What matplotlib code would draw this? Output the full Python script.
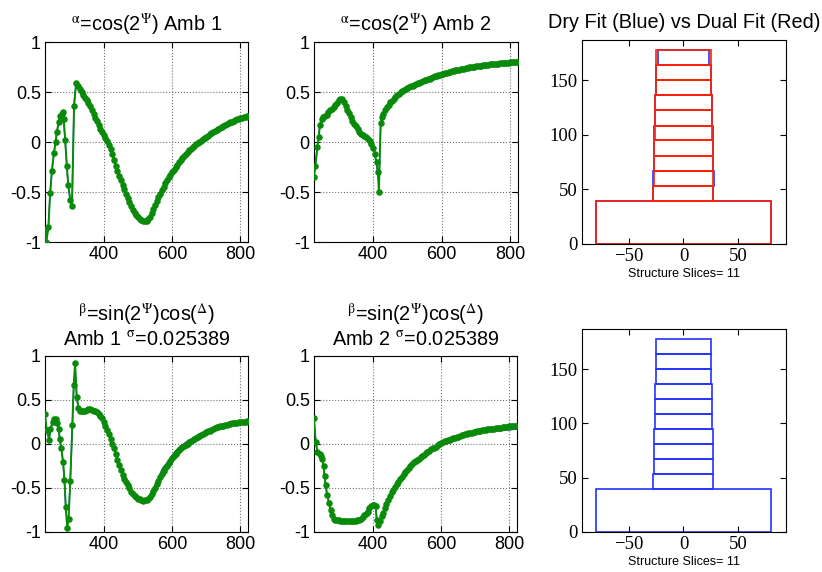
import matplotlib
matplotlib.use("Agg")
import matplotlib.pyplot as plt
from matplotlib.patches import Rectangle

plt.rcParams['mathtext.fontset'] = 'stix'

# ---------------------------------------------------------
# Amb 1, alpha: pomiar (zielony) i dopasowanie (niebieski)
# ---------------------------------------------------------
wl_a1 = [228, 232, 238, 243, 248, 254, 259, 263, 268, 273, 277, 280, 283, 287,
         292, 296, 302, 307, 313, 319, 325] + list(range(330, 825, 5))
meas_a1 = [-0.88, -1.0, -0.85, -0.51, -0.29, -0.11, 0.0, 0.10, 0.20, 0.26, 0.28, 0.30, 0.23, 0.02,
           -0.24, -0.43, -0.58, -0.64, 0.36, 0.59, 0.56,
           0.53, 0.50, 0.47, 0.445, 0.42, 0.39, 0.36, 0.32, 0.28, 0.245,
           0.21, 0.17, 0.13, 0.10, 0.07, 0.04, 0.01, -0.03, -0.07, -0.12,
           -0.18, -0.235, -0.29, -0.335, -0.38, -0.425, -0.47, -0.515, -0.56, -0.60,
           -0.64, -0.68, -0.71, -0.73, -0.75, -0.77, -0.78, -0.79, -0.79, -0.785,
           -0.77, -0.745, -0.71, -0.67, -0.63, -0.59, -0.55, -0.515, -0.48, -0.445,
           -0.41, -0.38, -0.35, -0.325, -0.30, -0.275, -0.25, -0.225, -0.20, -0.18,
           -0.16, -0.14, -0.12, -0.10, -0.08, -0.065, -0.05, -0.035, -0.02, -0.01,
           0.0, 0.015, 0.03, 0.04, 0.05, 0.065, 0.08, 0.09, 0.10, 0.11,
           0.12, 0.13, 0.14, 0.15, 0.16, 0.17, 0.18, 0.19, 0.20, 0.205,
           0.21, 0.22, 0.23, 0.235, 0.24, 0.245, 0.25, 0.255, 0.26]
fit_wl_a1 = [228, 232, 238, 243, 248, 254, 259, 263, 268, 273, 277, 280, 283, 287,
             292, 296, 302, 307, 313, 319, 325, 330, 340, 350, 360, 370, 380, 390,
             400, 410, 420, 430, 440, 450, 460, 470, 480, 490, 500, 510, 520, 530,
             540, 550, 560, 570, 580, 590, 600, 610, 620, 630, 640, 650, 660, 670,
             680, 690, 700, 710, 720, 730, 740, 750, 760, 770, 780, 790, 800, 810, 820]
fit_a1 = [-0.86, -0.97, -0.83, -0.52, -0.30, -0.12, 0.01, 0.11, 0.21, 0.27, 0.29, 0.28, 0.20, 0.00,
          -0.25, -0.44, -0.59, -0.63, 0.38, 0.59, 0.56, 0.53, 0.47, 0.42, 0.36, 0.28, 0.21, 0.13,
          0.07, 0.01, -0.07, -0.18, -0.29, -0.38, -0.47, -0.56, -0.64, -0.71, -0.76, -0.79, -0.79, -0.77,
          -0.71, -0.63, -0.55, -0.47, -0.40, -0.34, -0.29, -0.24, -0.19, -0.15, -0.11, -0.08, -0.05, -0.02,
          0.0, 0.03, 0.05, 0.08, 0.10, 0.12, 0.14, 0.16, 0.18, 0.20, 0.21, 0.23, 0.24, 0.25, 0.26]

# Amb 2, alpha
wl_a2 = ([228, 232, 238, 242, 245] + list(range(250, 405, 5))
         + [405, 410, 414, 417, 422, 426] + list(range(430, 825, 5)))
meas_a2 = [-0.35, -0.24, -0.05, 0.05, 0.17,
           0.23, 0.25, 0.26, 0.275, 0.30, 0.32, 0.335, 0.35, 0.37, 0.395,
           0.42, 0.43, 0.43, 0.40, 0.36, 0.325, 0.29, 0.25, 0.21, 0.185,
           0.16, 0.13, 0.10, 0.085, 0.07, 0.06, 0.05, 0.03, 0.01, -0.02,
           -0.06,
           -0.12, -0.20, -0.30, -0.50, 0.19, 0.25,
           0.28, 0.32, 0.35, 0.375, 0.40, 0.415, 0.43, 0.45, 0.47, 0.485,
           0.50, 0.51, 0.52, 0.53, 0.54, 0.55, 0.56, 0.565, 0.57, 0.58,
           0.59, 0.595, 0.60, 0.61, 0.62, 0.625, 0.63, 0.635, 0.64, 0.65,
           0.66, 0.665, 0.67, 0.675, 0.68, 0.685, 0.69, 0.695, 0.70, 0.705,
           0.71, 0.715, 0.72, 0.72, 0.725, 0.73, 0.73, 0.735, 0.74, 0.745,
           0.75, 0.75, 0.755, 0.755, 0.76, 0.76, 0.765, 0.765, 0.77, 0.77,
           0.775, 0.775, 0.78, 0.78, 0.78, 0.78, 0.785, 0.785, 0.79, 0.79,
           0.79, 0.79, 0.795, 0.795, 0.80, 0.80, 0.80, 0.80, 0.80]
fit_wl_a2 = [228, 232, 238, 242, 245, 249, 254, 260, 266, 272, 278, 284, 290, 296, 302, 308, 314, 320,
             330, 340, 350, 360, 370, 380, 390, 400, 405, 410, 414, 417, 422, 430, 440, 450, 460, 470,
             480, 490, 500, 510, 520, 530, 540, 550, 560, 570, 580, 590, 600, 610, 620, 630, 640, 650,
             660, 670, 680, 690, 700, 710, 720, 730, 740, 750, 760, 770, 780, 790, 800, 810, 820]
fit_a2 = [-0.33, -0.22, -0.04, 0.06, 0.16, 0.21, 0.24, 0.26, 0.28, 0.31, 0.33, 0.35, 0.37, 0.40, 0.43, 0.43, 0.40, 0.36,
          0.29, 0.21, 0.16, 0.10, 0.07, 0.05, 0.01, -0.06, -0.13, -0.22, -0.33, -0.42, 0.15, 0.27, 0.35, 0.40, 0.43, 0.47,
          0.50, 0.52, 0.54, 0.56, 0.57, 0.59, 0.60, 0.62, 0.63, 0.64, 0.66, 0.67, 0.68, 0.69, 0.70, 0.71, 0.72, 0.72,
          0.73, 0.74, 0.75, 0.75, 0.76, 0.76, 0.77, 0.77, 0.78, 0.78, 0.78, 0.79, 0.79, 0.79, 0.80, 0.80, 0.80]

# Amb 1, beta
wl_b1 = [228, 233, 240, 244, 250, 255, 260, 263, 268, 271, 276, 281, 285, 289, 293, 297,
         302, 308, 312, 316, 321, 326] + list(range(330, 825, 5))
meas_b1 = [0.34, 0.16, 0.05, 0.17, 0.25, 0.28, 0.28, 0.24, 0.17, 0.06, -0.05, -0.20, -0.41, -0.72, -0.96, -0.85,
           -0.42, 0.22, 0.67, 0.92, 0.53, 0.41,
           0.38, 0.375, 0.37, 0.38, 0.39, 0.395, 0.40, 0.39, 0.38, 0.37,
           0.36, 0.34, 0.32, 0.29, 0.25, 0.205, 0.16, 0.11, 0.06, 0.005,
           -0.05, -0.115, -0.18, -0.24, -0.30, -0.35, -0.40, -0.435, -0.47, -0.505,
           -0.54, -0.565, -0.59, -0.605, -0.62, -0.63, -0.64, -0.645, -0.64, -0.635,
           -0.62, -0.60, -0.57, -0.535, -0.50, -0.46, -0.42, -0.38, -0.34, -0.305,
           -0.27, -0.245, -0.22, -0.19, -0.16, -0.135, -0.11, -0.09, -0.07, -0.05,
           -0.03, -0.02, -0.01, 0.005, 0.02, 0.03, 0.04, 0.055, 0.07, 0.08,
           0.09, 0.10, 0.11, 0.125, 0.14, 0.145, 0.15, 0.16, 0.17, 0.18,
           0.19, 0.195, 0.20, 0.205, 0.21, 0.215, 0.22, 0.225, 0.23, 0.235,
           0.24, 0.24, 0.24, 0.245, 0.25, 0.25, 0.25, 0.255, 0.26]
fit_wl_b1 = [228, 233, 240, 244, 250, 255, 260, 263, 268, 271, 276, 281, 285, 289, 293, 297, 302, 308,
             312, 316, 321, 326, 330, 340, 350, 360, 370, 380, 390, 400, 410, 420, 430, 440, 450, 460,
             470, 480, 490, 500, 510, 520, 530, 540, 550, 560, 570, 580, 590, 600, 610, 620, 630, 640,
             650, 660, 670, 680, 690, 700, 710, 720, 730, 740, 750, 760, 770, 780, 790, 800, 810, 820]
fit_b1 = [0.32, 0.15, 0.07, 0.16, 0.24, 0.27, 0.27, 0.23, 0.15, 0.04, -0.07, -0.22, -0.44, -0.75, -0.90, -0.82, -0.40, 0.20,
          0.64, 0.88, 0.52, 0.41, 0.38, 0.37, 0.39, 0.40, 0.38, 0.36, 0.32, 0.25, 0.16, 0.06, -0.05, -0.18, -0.30, -0.40,
          -0.47, -0.54, -0.59, -0.62, -0.63, -0.63, -0.61, -0.55, -0.47, -0.39, -0.29, -0.24, -0.19, -0.13, -0.08, -0.04, -0.01, 0.02,
          0.04, 0.06, 0.09, 0.11, 0.13, 0.15, 0.17, 0.18, 0.20, 0.21, 0.22, 0.23, 0.24, 0.24, 0.25, 0.25, 0.25, 0.26]

# Amb 2, beta
wl_b2 = ([228, 233, 238, 245, 249, 252, 256, 259, 262, 267, 272, 277, 281, 286]
         + list(range(290, 410, 5)) + [409, 411, 416, 422, 426] + list(range(430, 825, 5)))
meas_b2 = [0.29, 0.02, -0.09, -0.11, -0.14, -0.17, -0.25, -0.36, -0.47, -0.58, -0.67, -0.75, -0.81, -0.85,
           -0.86, -0.86, -0.865, -0.87, -0.87, -0.875, -0.88, -0.88, -0.88, -0.88,
           -0.875, -0.87, -0.87, -0.865, -0.86, -0.85, -0.83, -0.81, -0.79, -0.77,
           -0.73, -0.71, -0.695, -0.69,
           -0.70, -0.86, -0.92, -0.87, -0.82,
           -0.78, -0.73, -0.68, -0.64, -0.59, -0.55, -0.52, -0.49, -0.46, -0.43,
           -0.40, -0.37, -0.345, -0.32, -0.295, -0.27, -0.25, -0.23, -0.21, -0.195,
           -0.18, -0.165, -0.15, -0.135, -0.12, -0.105, -0.09, -0.075, -0.06, -0.05,
           -0.04, -0.03, -0.015, 0.0, 0.01, 0.02, 0.03, 0.035, 0.045, 0.05,
           0.06, 0.065, 0.07, 0.08, 0.085, 0.09, 0.10, 0.105, 0.11, 0.115,
           0.12, 0.125, 0.13, 0.135, 0.14, 0.145, 0.15, 0.15, 0.155, 0.16,
           0.16, 0.165, 0.165, 0.17, 0.17, 0.175, 0.18, 0.18, 0.185, 0.185,
           0.19, 0.19, 0.195, 0.195, 0.20, 0.20, 0.205, 0.205, 0.21]
fit_wl_b2 = [228, 233, 238, 245, 249, 252, 256, 259, 262, 267, 272, 277, 281, 286, 293, 303, 313, 322,
             332, 342, 356, 371, 380, 390, 400, 408, 411, 416, 422, 429, 439, 450, 460, 470, 480, 490,
             500, 510, 520, 530, 540, 550, 560, 570, 580, 590, 600, 610, 620, 630, 640, 650, 660, 670,
             680, 690, 700, 710, 720, 730, 740, 750, 760, 770, 780, 790, 800, 810, 820]
fit_b2 = [0.27, 0.04, -0.08, -0.12, -0.15, -0.18, -0.26, -0.37, -0.48, -0.59, -0.68, -0.76, -0.81, -0.85, -0.86, -0.87, -0.88, -0.88,
          -0.88, -0.87, -0.86, -0.81, -0.77, -0.72, -0.69, -0.71, -0.82, -0.90, -0.86, -0.79, -0.69, -0.59, -0.53, -0.47, -0.41, -0.36,
          -0.30, -0.26, -0.22, -0.19, -0.16, -0.13, -0.10, -0.08, -0.05, -0.03, -0.01, 0.01, 0.03, 0.04, 0.05, 0.06, 0.08, 0.09,
          0.10, 0.11, 0.12, 0.12, 0.13, 0.135, 0.14, 0.145, 0.15, 0.15, 0.155, 0.16, 0.16, 0.165, 0.17]

# Struktura: plastry (dolna krawedz, grubosc, szerokosc)
slice_bottom = [0, 39.7, 53.5, 67.3, 81.1, 94.9, 108.6, 122.4, 136.2, 150.0, 163.8]
slice_height = [39.7, 13.8, 13.8, 13.8, 13.8, 13.7, 13.8, 13.8, 13.8, 13.8, 13.8]
width_dual = [160, 55, 53.4, 53.4, 53.4, 51.5, 51.5, 51.5, 50, 50, 50]
width_dry = [160, 55, 56, 53.4, 53.4, 54, 51.5, 51.5, 50, 50, 47.5]

W, H = 822, 572
SANS = 'Liberation Sans'
SERIF = 'Liberation Serif'


def add_ax(fig, left, top, right, bottom):
    return fig.add_axes([left / W, 1 - bottom / H, (right - left) / W, (bottom - top) / H])


def curve_panel(ax, wl, meas, fit_wl, fit, title):
    ax.plot(fit_wl, fit, color='#1f3fff', lw=1.0, zorder=2)
    ax.plot(wl, meas, color='#0a8a0a', lw=1.4, marker='o', ms=4.7,
            markeredgewidth=0, zorder=3)
    ax.set_xlim(228, 822)
    ax.set_ylim(-1, 1)
    ax.set_xticks([400, 600, 800])
    ax.set_yticks([-1, -0.5, 0, 0.5, 1])
    ax.set_yticklabels(['-1', '-0.5', '0', '0.5', '1'])
    ax.grid(True, color='0.45', linestyle=':', linewidth=0.8)
    ax.tick_params(direction='in', length=4, width=0.8, top=True, right=True,
                   labelsize=13, pad=3)
    for lab in ax.get_xticklabels() + ax.get_yticklabels():
        lab.set_family(SANS)
    ax.set_title(title, fontsize=14.3, family=SANS, pad=8, linespacing=1.15)


def slice_panel(ax, widths_list, colors, xlabel, title=None):
    for widths, col in zip(widths_list, colors):
        for z, h, w in zip(slice_bottom, slice_height, widths):
            ax.add_patch(Rectangle((-w / 2, z), w, h, fill=False,
                                   edgecolor=col, lw=1.2))
    ax.set_xlim(-93, 94)
    ax.set_ylim(0, 187)
    ax.set_xticks([-50, 0, 50])
    ax.set_yticks([0, 50, 100, 150])
    ax.tick_params(direction='in', length=4, width=0.8, top=True, right=True,
                   labelsize=13.5, pad=3)
    for lab in ax.get_xticklabels() + ax.get_yticklabels():
        lab.set_family(SERIF)
    ax.set_xlabel(xlabel, fontsize=9, family=SANS, labelpad=2)
    if title:
        ax.set_title(title, fontsize=14.3, family=SANS, pad=9)


def main():
    fig = plt.figure(figsize=(W / 100, H / 100), dpi=100)

    t_alpha = r'$^{\mathrm{\alpha}}$=cos(2$^{\mathrm{\Psi}}$) Amb '
    t_beta = r'$^{\mathrm{\beta}}$=sin(2$^{\mathrm{\Psi}}$)cos($^{\mathrm{\Delta}}$)' + '\n'
    t_sigma = r' $^{\mathrm{\sigma}}$=0.025389'

    ax1 = add_ax(fig, 45, 42, 248, 242)
    curve_panel(ax1, wl_a1, meas_a1, fit_wl_a1, fit_a1, t_alpha + '1')

    ax2 = add_ax(fig, 314, 42, 518, 242)
    curve_panel(ax2, wl_a2, meas_a2, fit_wl_a2, fit_a2, t_alpha + '2')

    ax3 = add_ax(fig, 582, 40, 786, 244)
    slice_panel(ax3, [width_dry, width_dual], ['#2233ff', '#ff2200'],
                'Structure Slices= 11', 'Dry Fit (Blue) vs Dual Fit (Red)')

    ax4 = add_ax(fig, 45, 356, 248, 532)
    curve_panel(ax4, wl_b1, meas_b1, fit_wl_b1, fit_b1, t_beta + 'Amb 1' + t_sigma)

    ax5 = add_ax(fig, 314, 356, 517, 532)
    curve_panel(ax5, wl_b2, meas_b2, fit_wl_b2, fit_b2, t_beta + 'Amb 2' + t_sigma)

    ax6 = add_ax(fig, 582, 329, 786, 532)
    slice_panel(ax6, [width_dual], ['#2233ff'], 'Structure Slices= 11')

    fig.savefig('out.png', dpi=100)


if __name__ == "__main__":
    main()
